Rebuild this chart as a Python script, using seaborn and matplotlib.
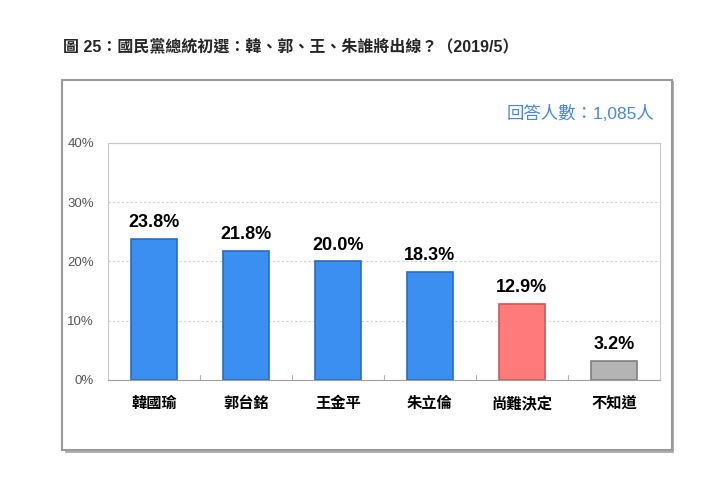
import matplotlib
matplotlib.use("Agg")
import matplotlib.pyplot as plt
import seaborn as sns
import pandas as pd
from matplotlib.patches import Rectangle
from matplotlib.ticker import FuncFormatter

# data
categories = ['韓國瑜', '郭台銘', '王金平', '朱立倫', '尚難決定', '不知道']
values = [23.8, 21.8, 20.0, 18.3, 12.9, 3.2]
bar_colors = ['#3b8ff0', '#3b8ff0', '#3b8ff0', '#3b8ff0', '#ff7b7b', '#b4b4b4']
edge_colors = ['#2a6cc0', '#2a6cc0', '#2a6cc0', '#2a6cc0', '#c85a5a', '#808080']
title = '圖 25：國民黨總統初選：韓、郭、王、朱誰將出線？（2019/5）'
note = '回答人數：1,085人'

sns.set_style('white')
plt.rcParams['font.family'] = ['Liberation Sans', 'Noto Sans CJK TC', 'DejaVu Sans']

df = pd.DataFrame({'cat': categories, 'val': values})

fig = plt.figure(figsize=(7.04, 4.83), dpi=100)

# outer frame with shadow
shadow = Rectangle((0.092, 0.062), 0.866, 0.770, transform=fig.transFigure,
                   facecolor='#b0b0b0', edgecolor='none', zorder=0)
frame = Rectangle((0.088, 0.068), 0.866, 0.766, transform=fig.transFigure,
                  facecolor='white', edgecolor='#9a9a9a', linewidth=1.5, zorder=1)
fig.patches.extend([shadow, frame])

fig.text(0.089, 0.903, title, fontsize=11.5, fontweight='bold', ha='left', va='center')
fig.text(0.930, 0.766, note, fontsize=12.5, color='#4a86e8', ha='right', va='center')

ax = fig.add_axes([0.1534, 0.2133, 0.784, 0.4907])
ax.set_zorder(2)
sns.barplot(data=df, x='cat', y='val', hue='cat', palette=bar_colors, legend=False,
            width=0.5, ax=ax, saturation=1)
for bar, ec in zip(ax.patches, edge_colors):
    bar.set_edgecolor(ec)
    bar.set_linewidth(1.2)
    h = bar.get_height()
    ax.text(bar.get_x() + bar.get_width() / 2, h + 1.3, f'{h:.1f}%',
            ha='center', va='bottom', fontsize=13, fontweight='bold', color='black')

ax.set_ylim(0, 40)
ax.set_yticks([0, 10, 20, 30, 40])
ax.yaxis.set_major_formatter(FuncFormatter(lambda v, p: f'{v:.0f}%'))
ax.set_xlim(-0.5, len(categories) - 0.5)
ax.set_xlabel('')
ax.set_ylabel('')
ax.grid(axis='y', color='#d0d0d0', linestyle=(0, (2, 2)), linewidth=0.8)
ax.set_axisbelow(True)
for s in ax.spines.values():
    s.set_color('#c8c8c8')
    s.set_linewidth(0.8)
ax.spines['bottom'].set_color('#a0a0a0')
ax.tick_params(axis='y', length=0, labelsize=9.5, labelcolor='#555555', pad=10)
ax.tick_params(axis='x', length=0, labelsize=11, labelcolor='black', pad=12)
for lbl in ax.get_xticklabels():
    lbl.set_fontweight('bold')
# small category separators at bottom
for i in range(1, len(categories)):
    ax.plot([i - 0.5, i - 0.5], [0, 0.9], color='#b0b0b0', linewidth=0.8, clip_on=False)

fig.savefig('out.png', dpi=100, facecolor='white')
